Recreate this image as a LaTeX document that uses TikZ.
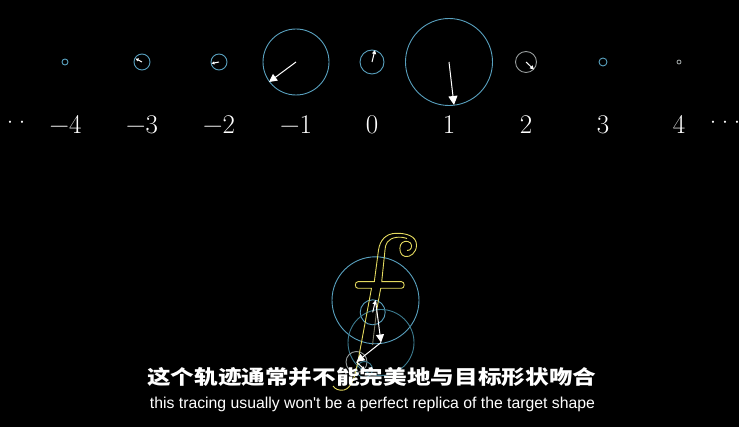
\documentclass[tikz,border=0pt]{standalone}
\usepackage{fontspec}
\usepackage{graphicx}
\usetikzlibrary{arrows.meta}
\newfontfamily\cjk{Noto Sans CJK SC}
\newfontfamily\subfont{Liberation Sans}[Ligatures=TeXOff]
\definecolor{ringblue}{RGB}{88,160,190}
\definecolor{ringdark}{RGB}{60,122,142}
\definecolor{ringgray}{RGB}{150,155,155}
\definecolor{tracecol}{RGB}{228,218,95}
\definecolor{tracefade}{RGB}{125,125,105}
\newcommand{\mydots}{\makebox[12pt]{·}\makebox[12pt]{·}\makebox[12pt]{·}}
\begin{document}
\begin{tikzpicture}[x=1pt,y=-1pt,
  ring/.style={circle, draw=ringblue, line width=0.9pt, inner sep=0pt, minimum size=#1pt},
  ringg/.style={ring=#1, draw=ringgray},
  ringd/.style={ring=#1, draw=ringdark},
  vec/.style={draw=white, line width=1pt, -{Triangle[length=#1pt,width=#1pt]}},
  vec/.default=7,
  lab/.style={text=white, anchor=base, inner sep=0pt, font=\fontsize{27}{30}\selectfont},
  trace/.style={draw=tracecol, line width=0.9pt, line join=round},
  tracef/.style={draw=tracefade, line width=0.9pt}]
\useasboundingbox (0,0) rectangle (739,427);
\fill[black] (0,0) rectangle (739,427);

% ---- top row of circles ----
\node[ring=6]   (cm4) at (65,62)  {};
\node[ring=16]  (cm3) at (142,62) {};
\node[ring=16]  (cm2) at (219,62) {};
\node[ring=66]  (cm1) at (296,62) {};
\node[ring=24]  (c0)  at (372,62) {};
\node[ring=87]  (c1)  at (449,62) {};
\node[ringg=21] (c2)  at (526,62) {};
\node[ring=8]   (c3)  at (603,62) {};
\node[ringg=4]  (c4)  at (679,62) {};

\coordinate (tm3) at (135.5,58.5);
\coordinate (tm2) at (211.5,63.5);
\coordinate (tm1) at (269,82);
\coordinate (t0)  at (375,50);
\coordinate (t1)  at (454,105);
\coordinate (t2)  at (534,69.5);

\draw[vec=3] (cm3.center) -- (tm3);
\draw[vec=3] (cm2.center) -- (tm2);
\draw[vec=8] (cm1.center) -- (tm1);
\draw[vec=4] (c0.center)  -- (t0);
\draw[vec=9] (c1.center)  -- (t1);
\draw[vec=4] (c2.center)  -- (t2);

% ---- number labels ----
\node[lab] (dl)  at (10,132)     {\mydots};
\node[lab] (lm4) at (65.5,133.5) {−4};
\node[lab] (lm3) at (142,133.5)  {−3};
\node[lab] (lm2) at (219,133.5)  {−2};
\node[lab] (lm1) at (296,133.5)  {−1};
\node[lab] (l0)  at (372,133.5)  {0};
\node[lab] (l1)  at (449,133.5)  {1};
\node[lab] (l2)  at (526,133.5)  {2};
\node[lab] (l3)  at (603,133.5)  {3};
\node[lab] (l4)  at (679,133.5)  {4};
\node[lab] (dr)  at (725,132)    {\mydots};

% ---- bottom: epicycles ----
\node[ring=25]  (b0)  at (372.7,312.3) {};
\node[ring=87]  (b1)  at (375.5,300.3) {};
\node[ringd=66] (bm1) at (381,342.5)   {};
\node[ringg=21] (b2)  at (356.5,362)   {};
\node[ringd=16] (bm2) at (364.5,369.5) {};

% ---- traced f ----
\draw[trace] (333,386) .. controls (335,389) and (339,391) .. (344,390)
  .. controls (352,388) and (355,376) .. (358,361)
  -- (371.5,288.3) -- (358,288.3)
  .. controls (354.5,288.3) and (354.5,281.7) .. (358,281.7)
  -- (374.3,281.7) -- (378.5,250)
  .. controls (380,240) and (386,233.5) .. (396,233.3)
  .. controls (406,233) and (416.5,236) .. (416.5,245)
  .. controls (416.5,253) and (410,257.5) .. (405,256.5)
  .. controls (400,255.5) and (399,249) .. (400.5,245)
  .. controls (402,241) and (407.5,240) .. (410.5,243)
  .. controls (413,246) and (411,251) .. (407,250.5);
\draw[trace] (407,238.5) .. controls (400,236) and (391,237) .. (387.5,242)
  .. controls (385.5,245) and (385,248) .. (385,250)
  -- (381.7,281.7) -- (401.5,281.7)
  .. controls (405,281.7) and (405,288.3) .. (401.5,288.3)
  -- (380.7,288.3) -- (376.7,310);
\draw[tracef] (376.7,310) -- (372.5,345);

% ---- bottom arrows ----
\draw[vec=4] (b0.center)  -- (b1.center);
\draw[vec=8] (b1.center)  -- (bm1.center);
\draw[vec=8] (bm1.center) -- (b2.center);
\draw[vec=3] (b2.center)  -- (bm2.center);

% ---- subtitles ----
\node[anchor=base, text=white, inner sep=0pt] (zh) at (371.7,385)
  {\scalebox{1.2}[1]{\fontsize{19.7}{22}\selectfont\cjk\bfseries 这个轨迹通常并不能完美地与目标形状吻合}};
\node[anchor=base, text=white, inner sep=0pt] (en) at (372.5,408)
  {\resizebox{445pt}{!}{\fontsize{14}{16}\selectfont\subfont this tracing usually won't be a perfect replica of the target shape}};
\end{tikzpicture}
\end{document}
